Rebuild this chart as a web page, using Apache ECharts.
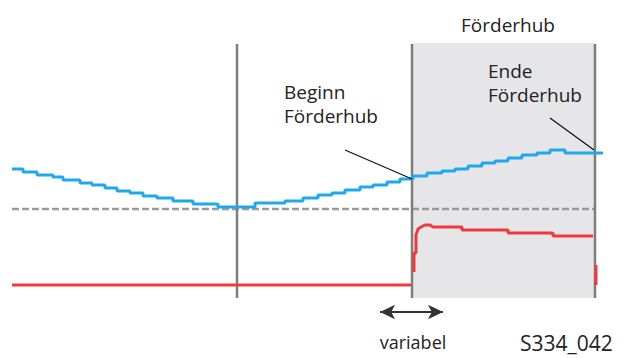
<!DOCTYPE html>
<html>
<head>
<meta charset="utf-8">
<script src="https://cdn.jsdelivr.net/npm/echarts@6/dist/echarts.min.js"></script>
<style>
  html, body { margin: 0; padding: 0; background: #fff; }
  #main { width: 630px; height: 358px; }
</style>
</head>
<body>
<div id="main"></div>
<script>
// Skizze Förderhub: x = Winkel (Bildeinheiten), y = Pegel (nach unten wachsend)
var blueX = [12, 23, 37, 53, 63, 80, 92, 105, 117, 130, 143, 157, 173, 193, 218, 255, 285, 303, 318, 332, 345, 360, 373, 387, 400, 413, 427, 442, 455, 468, 482, 495, 508, 522, 537, 550, 565, 593, 603];
var blueY = [169, 172, 175, 177, 180, 183, 185, 188, 191, 193, 196, 198, 201, 204, 207, 203, 201, 198, 195, 193, 190, 187, 185, 182, 179, 176, 173, 171, 169, 166, 163, 161, 158, 155, 153, 150, 153, 153, 153];

var redX1 = [12, 411];
var redY1 = [285, 285];
var redX2 = [414, 414, 416, 416, 418, 421, 425, 430, 433, 462, 462, 508, 508, 553, 553, 593];
var redY2 = [272, 253, 253, 235, 229, 227, 225, 225, 227, 227, 230, 230, 233, 233, 236, 236];
var redX3 = [596, 596];
var redY3 = [265, 285];

var dividerX = [237, 412, 595];
var dividerTop = 44, dividerBottom = 298;
var refLevel = 209, refStart = 12, refEnd = 596;
var strokeStart = 412, strokeEnd = 595, strokeTop = 43;

var myChart = echarts.init(document.getElementById('main'), null, { renderer: 'svg' });

function pairs(xs, ys) {
    return xs.map(function (x, i) { return [x, ys[i]]; });
}

var blueSteps = [];
blueX.forEach(function (x, i) {
    if (i > 0) blueSteps.push([x, blueY[i - 1]]);
    blueSteps.push([x, blueY[i]]);
});

var lineBase = { type: 'line', symbol: 'none', silent: true, animation: false };
var font = '"Open Sans", Lato, sans-serif';

function label(text, x, y, size, align) {
    return {
        type: 'text', x: x, y: y, z: 100, silent: true,
        style: {
            text: text, fontFamily: font, fontSize: size, fill: '#222',
            align: align || 'left', verticalAlign: 'middle'
        }
    };
}

var series = [];
// Förderhub-Bereich
series.push(Object.assign({}, lineBase, {
    data: [],
    markArea: {
        silent: true,
        itemStyle: { color: '#e6e6e8' },
        data: [[{ coord: [strokeStart, strokeTop] }, { coord: [strokeEnd, dividerBottom] }]]
    }
}));
// Bezugslinie
series.push(Object.assign({}, lineBase, {
    data: [[refStart, refLevel], [refEnd, refLevel]],
    lineStyle: { color: '#9a9a9a', width: 2.5, type: [7, 3] }
}));
// Trennlinien
dividerX.forEach(function (x) {
    series.push(Object.assign({}, lineBase, {
        data: [[x, dividerTop], [x, dividerBottom]],
        lineStyle: { color: '#7d7d7d', width: 2.5 }
    }));
});
// blaue Kurve
series.push(Object.assign({}, lineBase, {
    data: blueSteps,
    lineStyle: { color: '#1fa9ec', width: 3 }
}));
// rote Kurve
[[redX1, redY1], [redX2, redY2], [redX3, redY3]].forEach(function (r) {
    series.push(Object.assign({}, lineBase, {
        data: pairs(r[0], r[1]),
        lineStyle: { color: '#ec3a40', width: 3 }
    }));
});
// Hinweislinien
series.push(Object.assign({}, lineBase, {
    data: [[345, 150], [412, 179]],
    lineStyle: { color: '#111', width: 1.2 }
}));
series.push(Object.assign({}, lineBase, {
    data: [[550, 118], [594, 150]],
    lineStyle: { color: '#111', width: 1.2 }
}));
// Pfeil "variabel"
series.push(Object.assign({}, lineBase, {
    data: [],
    markLine: {
        silent: true,
        symbol: ['arrow', 'arrow'],
        symbolSize: [11, 15],
        label: { show: false },
        lineStyle: { color: '#333', width: 2, type: 'solid' },
        data: [[{ coord: [380, 312] }, { coord: [443, 312] }]]
    }
}));

var option = {
    animation: false,
    grid: { left: 0, right: 0, top: 0, bottom: 0 },
    xAxis: { type: 'value', min: 0, max: 630, show: false },
    yAxis: { type: 'value', min: 0, max: 358, inverse: true, show: false },
    series: series,
    graphic: [
        label('Förderhub', 508, 25, 19, 'center'),
        label('Beginn', 284, 92, 19),
        label('Förderhub', 284, 116, 19),
        label('Ende', 488, 71, 19),
        label('Förderhub', 488, 95, 19),
        label('variabel', 413, 342, 18, 'center'),
        label('S334_042', 520, 343, 21)
    ]
};

myChart.setOption(option);
</script>
</body>
</html>
